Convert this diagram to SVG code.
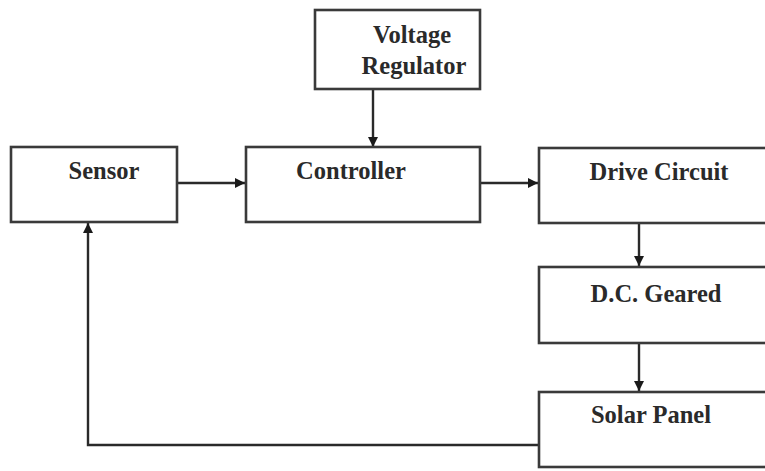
<svg xmlns="http://www.w3.org/2000/svg" width="765" height="471" viewBox="0 0 765 471">
<style>
.box{fill:#fff;stroke:#3a3a3a;stroke-width:2.6}
.lbl{font-family:"Liberation Serif","Times New Roman",serif;font-size:24.5px;font-weight:bold;fill:#2a2a2a;text-anchor:middle}
.con{fill:none;stroke:#2a2a2a;stroke-width:2.4}
</style>
<defs>
<marker id="ah" viewBox="0 0 10 10" refX="10" refY="5" markerWidth="10" markerHeight="10" markerUnits="userSpaceOnUse" orient="auto">
<path d="M0,0 L10,5 L0,10 z" fill="#1a1a1a"/>
</marker>
</defs>
<rect width="765" height="471" fill="#fff"/>
<g id="connectors">
<line class="con" x1="373" y1="89" x2="373" y2="147" marker-end="url(#ah)"/>
<line class="con" x1="177" y1="183" x2="245" y2="183" marker-end="url(#ah)"/>
<line class="con" x1="480" y1="183" x2="538" y2="183" marker-end="url(#ah)"/>
<line class="con" x1="639" y1="223" x2="639" y2="266" marker-end="url(#ah)"/>
<line class="con" x1="639" y1="343" x2="639" y2="391" marker-end="url(#ah)"/>
<polyline class="con" points="539,445 88,445 88,223" marker-end="url(#ah)"/>
</g>
<g id="voltage-regulator">
<rect class="box" x="315" y="10" width="165" height="79"/>
<text class="lbl" x="412" y="43">Voltage</text>
<text class="lbl" x="414" y="74">Regulator</text>
</g>
<g id="sensor">
<rect class="box" x="11" y="147" width="166" height="75"/>
<text class="lbl" x="104" y="179">Sensor</text>
</g>
<g id="controller">
<rect class="box" x="246" y="147" width="234" height="75"/>
<text class="lbl" x="351" y="179">Controller</text>
</g>
<g id="drive-circuit">
<rect class="box" x="539" y="148" width="240" height="75"/>
<text class="lbl" x="659" y="180">Drive Circuit</text>
</g>
<g id="dc-geared">
<rect class="box" x="539" y="267" width="240" height="76"/>
<text class="lbl" x="656" y="302">D.C. Geared</text>
</g>
<g id="solar-panel">
<rect class="box" x="539" y="392" width="240" height="75"/>
<text class="lbl" x="651" y="423">Solar Panel</text>
</g>
</svg>
